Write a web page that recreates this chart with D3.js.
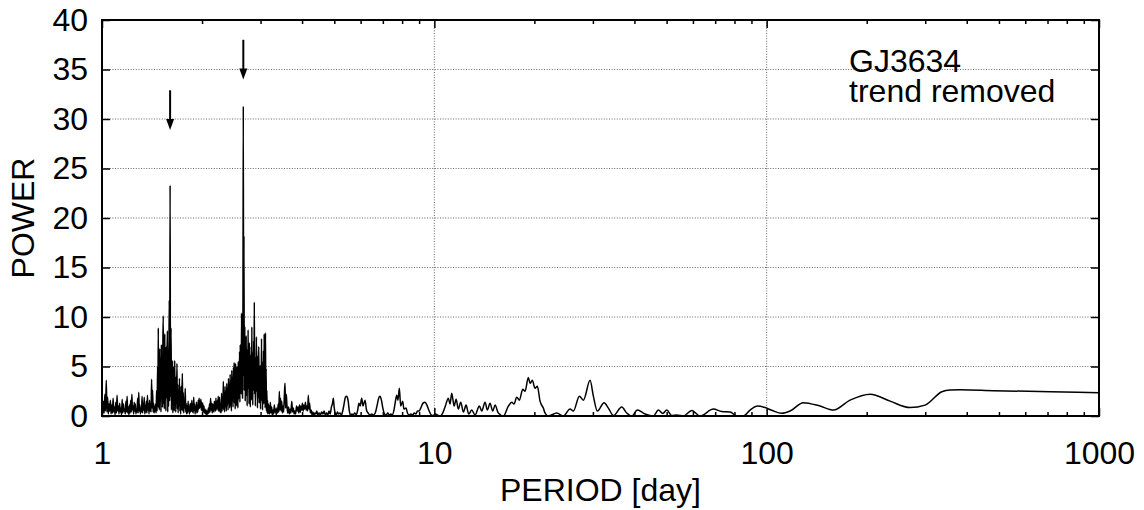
<!DOCTYPE html>
<meta charset="utf-8">
<script src="https://d3js.org/d3.v7.min.js"></script>
<style>
  body { margin: 0; background: #fff; }
  text { font-family: "Liberation Sans", Arial, sans-serif; }
</style>
<div id="chart"></div>
<script>
  // tick values
  var yTicks = [0, 5, 10, 15, 20, 25, 30, 35, 40];
  var yGrid = [5, 10, 15, 20, 25, 30, 35];
  var xTicks = [1, 10, 100, 1000];
  var xGrid = [10, 100];

  // periodogram, [period (day), power]
  var noiseShort = [[1.000,0.8],[1.005,0.2],[1.010,1.5],[1.015,0.3],[1.020,2.2],[1.025,0.5],[1.030,3.6],[1.035,0.4],[1.040,1.9],[1.045,0.2],[1.050,1.2],[1.055,0.5],[1.060,1.6],[1.065,0.2],[1.070,1.1],[1.075,0.3],[1.080,1.8],[1.085,0.4],[1.090,0.9],[1.095,0.1],[1.100,1.4],[1.105,0.3],[1.110,2.1],[1.115,0.5],[1.120,1.0],[1.125,0.2],[1.130,1.3],[1.135,0.4],[1.140,0.8],[1.145,0.1],[1.150,1.7],[1.155,0.3],[1.160,1.2],[1.165,0.5],[1.170,0.7],[1.175,0.2],[1.180,1.5],[1.185,0.4],[1.190,2.0],[1.195,0.3],[1.200,0.9],[1.205,0.1],[1.210,1.1],[1.215,0.3],[1.220,1.6],[1.225,0.4],[1.230,2.2],[1.235,0.6],[1.240,1.0],[1.245,0.2],[1.250,1.4],[1.255,0.5],[1.260,1.2],[1.265,0.2],[1.270,0.7],[1.275,0.4],[1.280,1.8],[1.285,0.3],[1.290,2.4],[1.295,0.5],[1.300,1.1],[1.305,0.2],[1.310,0.8],[1.315,0.4],[1.320,2.0],[1.325,0.3],[1.330,1.3],[1.335,0.6],[1.340,1.9],[1.345,0.2],[1.350,1.0],[1.355,0.4],[1.360,1.5],[1.365,0.3],[1.370,2.1],[1.375,0.6],[1.380,1.2],[1.385,0.2],[1.390,1.6],[1.395,0.5],[1.400,1.2],[1.405,0.4],[1.410,3.7],[1.415,0.8],[1.420,2.6],[1.425,0.4],[1.430,1.3],[1.435,0.3],[1.440,0.9],[1.445,0.5]];

  var peakOne = [[1.450,1.2],[1.455,0.3],[1.460,2.6],[1.465,0.5],[1.470,5.0],[1.473,1.0],[1.477,8.9],[1.481,0.8],[1.485,4.2],[1.489,0.6],[1.493,6.8],[1.497,1.5],[1.501,3.8],[1.505,0.4],[1.509,7.2],[1.513,2.0],[1.517,5.5],[1.521,0.9],[1.525,7.8],[1.529,10.1],[1.533,1.2],[1.537,6.2],[1.541,0.7],[1.545,8.3],[1.549,2.5],[1.553,4.9],[1.557,0.5],[1.561,7.0],[1.565,1.8],[1.569,5.2],[1.573,8.6],[1.577,0.4],[1.581,4.5],[1.585,1.0],[1.590,6.5],[1.594,11.7],[1.598,1.5],[1.603,23.3],[1.607,2.0],[1.610,6.0],[1.614,8.9],[1.618,0.6],[1.622,4.8],[1.626,1.2],[1.630,5.6],[1.634,0.3],[1.638,3.9],[1.642,1.6],[1.646,5.0],[1.650,0.5],[1.655,5.6],[1.659,1.1],[1.663,3.5],[1.667,0.4],[1.672,4.0],[1.676,1.3],[1.681,5.3],[1.685,0.7],[1.690,3.2],[1.695,0.3],[1.700,2.6],[1.705,1.0],[1.710,3.8],[1.715,0.5],[1.720,2.2],[1.725,0.2],[1.730,3.0],[1.735,0.6],[1.740,1.9],[1.745,4.3],[1.750,0.5],[1.756,2.4],[1.762,0.3],[1.768,1.6],[1.774,0.8],[1.780,2.8],[1.786,0.4],[1.792,1.3],[1.798,0.2],[1.804,1.0],[1.810,0.3],[1.816,1.5],[1.822,0.5],[1.828,0.9],[1.834,0.2],[1.840,1.2],[1.846,0.4]];

  var noiseMid = [[1.852,1.3],[1.858,0.5],[1.864,1.6],[1.870,0.4],[1.876,1.1],[1.882,0.3],[1.888,1.9],[1.894,0.6],[1.900,1.2],[1.906,0.2],[1.912,0.9],[1.918,0.5],[1.924,1.4],[1.930,0.3],[1.936,1.0],[1.942,0.4],[1.948,1.6],[1.954,0.7],[1.960,1.8],[1.966,0.8],[1.972,1.5],[1.978,0.9],[1.984,1.7],[1.990,0.6],[1.996,1.4],[2.002,0.5],[2.010,1.3],[2.018,0.4],[2.026,1.0],[2.034,0.3],[2.042,0.7],[2.050,0.2],[2.058,0.6],[2.066,0.1],[2.074,0.5],[2.082,0.2],[2.090,0.8],[2.098,0.3],[2.106,1.2],[2.114,0.4],[2.122,1.8],[2.130,0.6],[2.138,1.3],[2.146,0.3],[2.154,1.2],[2.160,0.5],[2.166,1.0],[2.172,0.4],[2.178,1.5],[2.184,0.7],[2.190,1.1],[2.196,0.5],[2.202,1.8],[2.208,0.8],[2.214,1.3],[2.220,0.6],[2.226,1.6],[2.232,1.0],[2.238,2.0],[2.244,0.5]];

  var peakTwo = [[2.250,0.8],[2.258,1.9],[2.266,0.4],[2.274,1.2],[2.282,0.3],[2.290,2.3],[2.297,0.5],[2.304,1.6],[2.311,0.8],[2.318,3.5],[2.325,0.6],[2.332,2.0],[2.339,0.4],[2.346,3.0],[2.353,1.0],[2.360,2.2],[2.367,0.5],[2.374,3.3],[2.381,1.2],[2.388,2.5],[2.395,0.6],[2.402,3.8],[2.409,1.4],[2.416,2.7],[2.423,0.8],[2.430,4.2],[2.437,1.1],[2.444,3.1],[2.451,0.5],[2.458,4.6],[2.465,1.8],[2.472,3.6],[2.479,0.9],[2.486,4.9],[2.492,2.0],[2.498,5.4],[2.504,1.3],[2.510,4.0],[2.516,0.7],[2.522,5.3],[2.528,2.2],[2.534,4.5],[2.540,1.0],[2.546,5.0],[2.552,2.6],[2.558,3.9],[2.564,0.8],[2.570,5.5],[2.576,1.7],[2.582,4.8],[2.588,2.9],[2.594,6.5],[2.600,1.4],[2.606,7.2],[2.612,3.0],[2.618,5.9],[2.624,2.2],[2.630,10.4],[2.636,3.5],[2.642,7.5],[2.648,1.8],[2.655,9.0],[2.662,31.3],[2.668,4.0],[2.674,18.2],[2.680,2.6],[2.686,7.8],[2.692,9.0],[2.698,1.5],[2.704,6.4],[2.710,3.2],[2.716,8.1],[2.722,2.0],[2.728,5.5],[2.734,1.0],[2.740,6.8],[2.746,2.7],[2.752,8.7],[2.758,3.5],[2.764,5.9],[2.770,1.2],[2.776,7.4],[2.782,2.4],[2.788,6.2],[2.794,0.9],[2.800,5.0],[2.806,2.8],[2.812,7.0],[2.818,1.6],[2.824,9.0],[2.830,3.0],[2.836,6.5],[2.842,1.1],[2.848,5.2],[2.854,2.5],[2.860,7.6],[2.866,3.8],[2.873,11.5],[2.880,2.2],[2.887,6.0],[2.894,1.0],[2.901,5.4],[2.908,2.4],[2.915,8.0],[2.922,3.3],[2.929,6.1],[2.936,0.8],[2.943,4.4],[2.950,1.9],[2.957,5.8],[2.964,7.0],[2.971,1.3],[2.978,4.6],[2.985,2.0],[2.992,5.1],[2.999,0.7],[3.006,4.2],[3.013,2.1],[3.020,7.8],[3.027,1.5],[3.034,4.0],[3.041,0.6],[3.048,5.5],[3.055,2.3],[3.062,6.6],[3.069,1.2],[3.076,8.3],[3.083,3.0],[3.090,5.0],[3.097,0.8],[3.104,8.4],[3.111,2.0],[3.118,4.8],[3.125,0.5],[3.133,2.6],[3.141,0.3],[3.149,1.6],[3.157,0.2],[3.166,1.2],[3.175,0.3]];

  var noiseLong = [[3.185,1.0],[3.195,0.2],[3.210,1.4],[3.225,0.3],[3.240,0.9],[3.255,0.1],[3.270,0.6],[3.285,0.2],[3.300,1.1],[3.315,0.4],[3.330,0.7],[3.345,0.1],[3.360,0.8],[3.375,0.3],[3.390,1.2],[3.405,0.4],[3.417,2.5],[3.430,0.6],[3.445,1.8],[3.460,0.5],[3.474,1.5],[3.490,0.3],[3.505,1.0],[3.520,0.4],[3.537,2.0],[3.553,3.3],[3.570,0.8],[3.585,2.2],[3.600,1.2],[3.620,0.3],[3.640,0.9],[3.660,0.2],[3.680,0.7],[3.700,0.3],[3.724,1.5],[3.745,0.4],[3.765,0.8],[3.785,0.2],[3.805,0.5],[3.825,0.2],[3.850,1.0],[3.870,0.5],[3.890,0.9],[3.910,0.3],[3.930,1.1],[3.950,0.4],[3.970,1.0],[3.990,0.6],[4.010,1.3],[4.030,0.5],[4.050,1.1],[4.070,0.7],[4.095,1.4],[4.115,0.6],[4.135,1.0],[4.155,0.5],[4.177,2.1],[4.195,0.7],[4.215,1.3],[4.235,0.3],[4.260,0.6],[4.285,0.1],[4.310,0.4],[4.340,0.1],[4.370,0.3],[4.400,0.2],[4.430,0.5],[4.460,0.1],[4.500,0.3],[4.540,0.1],[4.580,0.4],[4.620,0.2],[4.660,0.5],[4.700,0.1],[4.740,0.3],[4.780,0.1],[4.820,0.5],[4.860,0.2],[4.900,0.9],[4.940,1.3],[4.967,1.8],[4.995,0.9],[5.030,0.3],[5.070,0.1],[5.110,0.4],[5.150,0.2],[5.200,0.3],[5.250,0.1],[5.300,0.5],[5.350,1.2],[5.400,1.9],[5.450,2.0],[5.500,1.6],[5.550,0.5],[5.600,0.1],[5.650,0.2],[5.700,0.1],[5.760,0.3],[5.820,0.1],[5.880,0.6],[5.930,1.3],[5.980,1.0],[6.046,1.8],[6.100,1.0],[6.186,1.6],[6.250,0.6],[6.320,0.3],[6.400,0.1],[6.480,0.2],[6.560,0.1],[6.640,0.3],[6.720,1.0],[6.800,1.8],[6.865,2.0],[6.930,1.6],[7.000,0.8],[7.080,0.2],[7.160,0.1],[7.240,0.3],[7.320,0.1],[7.400,0.2],[7.480,0.1],[7.560,0.6],[7.630,1.4],[7.706,2.1],[7.770,1.6],[7.847,2.8],[7.920,1.0],[8.030,1.5],[8.100,0.7],[8.220,0.8],[8.300,0.3],[8.400,0.1],[8.500,0.2],[8.600,0.1],[8.700,0.3],[8.800,0.2],[8.900,0.5],[9.000,0.5],[9.100,0.8],[9.250,1.3],[9.376,1.4],[9.500,1.1],[9.650,0.5],[9.800,0.1],[9.900,0.05],[10.00,0.1],[10.10,0.2]];

  var hump20 = [[10.20,0.1],[10.40,0.0],[10.60,0.3],[10.77,0.9],[11.02,1.8],[11.15,1.2],[11.28,2.3],[11.47,1.0],[11.63,1.7],[11.81,0.7],[12.01,1.4],[12.23,0.4],[12.46,1.1],[12.69,0.2],[12.96,0.6],[13.26,0.1],[13.66,1.0],[13.89,0.5],[14.21,1.4],[14.44,0.6],[14.71,1.3],[14.99,0.5],[15.23,1.1],[15.58,0.3],[16.13,0.0],[16.70,1.0],[17.10,1.4],[17.37,1.2],[17.70,1.9],[18.03,1.6],[18.45,2.7],[18.75,2.5],[19.18,3.9],[19.41,3.3],[19.72,3.6],[20.09,2.8],[20.42,3.0],[20.80,1.5],[21.28,0.8],[21.54,0.3],[22.03,0.0]];

  var smoothTail = [[23.36,0.3],[24.44,0.0],[25.61,0.7],[26.20,0.5],[27.32,2.0],[28.09,1.6],[29.42,3.6],[30.10,2.0],[30.95,0.5],[32.41,1.35],[33.40,0.8],[34.57,0.05],[36.64,0.9],[37.93,0.3],[39.27,0.0],[40.82,0.6],[43.06,0.2],[45.61,0.0],[47.22,0.6],[48.68,0.25],[50.05,0.6],[51.82,0.05],[53.62,0.1],[56.14,0.0],[59.52,0.55],[63.04,0.0],[69.13,0.7],[73.27,0.45],[77.62,0.4],[81.28,0.0],[85.11,0.0],[89.13,0.6],[94.0,1.0],[99.0,0.85],[104.0,0.55],[111.0,0.27],[117.6,0.5],[128.9,1.35],[144.8,1.0],[158.8,0.6],[178.2,1.6],[204.8,2.2],[235.2,1.5],[270.1,0.85],[299.8,1.1],[336.5,2.45],[356.3,2.63],[382.0,2.65],[481.0,2.56],[712.6,2.45],[1000,2.35]];

  var series = [].concat(noiseShort, peakOne, noiseMid, peakTwo, noiseLong, hump20, smoothTail);

  // arrows marking the two peaks
  var arrowPeriod = [1.603, 2.662];
  var arrowTop = [32.9, 38.0];
  var arrowTip = [28.9, 34.0];

  // label block anchored at this period
  var labelPeriod = 177;

  var margin = { top: 20, right: 45, bottom: 94, left: 102 },
    width = 1144 - margin.left - margin.right,
    height = 510 - margin.top - margin.bottom;

  var svg = d3.select("#chart")
    .append("svg")
    .attr("width", 1144)
    .attr("height", 510)
    .append("g")
    .attr("transform", "translate(" + margin.left + "," + margin.top + ")");

  var x = d3.scaleLog().domain([1, 1000]).range([0, width]);
  var y = d3.scaleLinear().domain([0, 40]).range([height, 0]);

  // dotted grid
  svg.selectAll(".gy").data(yGrid).enter().append("line")
    .attr("x1", 0).attr("x2", width)
    .attr("y1", function(d) { return y(d); }).attr("y2", function(d) { return y(d); })
    .attr("stroke", "#666").attr("stroke-width", 1).attr("stroke-dasharray", "1,1.6");
  svg.selectAll(".gx").data(xGrid).enter().append("line")
    .attr("y1", 0).attr("y2", height)
    .attr("x1", function(d) { return x(d); }).attr("x2", function(d) { return x(d); })
    .attr("stroke", "#666").attr("stroke-width", 1).attr("stroke-dasharray", "1,1.6");

  // minor log ticks
  var minor = [];
  [1, 10, 100].forEach(function(dec) {
    for (var k = 2; k < 10; k++) minor.push(dec * k);
  });

  function styleAxis(g) {
    g.select(".domain").remove();
    g.selectAll(".tick line").attr("stroke", "#000").attr("stroke-width", 1.5);
    g.selectAll("text").attr("fill", "#000").style("font-size", "32px")
      .style("font-family", "'Liberation Sans', Arial, sans-serif");
  }

  svg.append("g").attr("transform", "translate(0," + height + ")")
    .call(d3.axisBottom(x).tickValues(xTicks).tickSize(-8).tickPadding(25).tickFormat(d3.format("d")))
    .call(styleAxis);
  svg.append("g").attr("transform", "translate(0," + height + ")")
    .call(d3.axisBottom(x).tickValues(minor).tickSize(-4).tickFormat(""))
    .call(styleAxis);
  svg.append("g")
    .call(d3.axisTop(x).tickValues(xTicks).tickSize(-8).tickFormat(""))
    .call(styleAxis);
  svg.append("g")
    .call(d3.axisTop(x).tickValues(minor).tickSize(-4).tickFormat(""))
    .call(styleAxis);
  svg.append("g")
    .call(d3.axisLeft(y).tickValues(yTicks).tickSize(-8).tickPadding(14))
    .call(styleAxis);
  svg.append("g").attr("transform", "translate(" + width + ",0)")
    .call(d3.axisRight(y).tickValues(yTicks).tickSize(-8).tickFormat(""))
    .call(styleAxis);

  // the periodogram
  var line = d3.line()
    .x(function(d) { return x(d[0]); })
    .y(function(d) { return y(d[1]); })
    .curve(d3.curveMonotoneX);
  svg.append("path")
    .datum(series)
    .attr("fill", "none")
    .attr("stroke", "#000")
    .attr("stroke-width", 1.5)
    .attr("stroke-linejoin", "round")
    .attr("d", line);

  // arrows
  var headLen = 11, headHalf = 4;
  arrowPeriod.forEach(function(p, i) {
    var ax = x(p), y0 = y(arrowTop[i]), y1 = y(arrowTip[i]);
    svg.append("line")
      .attr("x1", ax).attr("x2", ax)
      .attr("y1", y0).attr("y2", y1 - headLen + 2)
      .attr("stroke", "#000").attr("stroke-width", 2);
    svg.append("path")
      .attr("d", "M" + (ax - headHalf) + "," + (y1 - headLen) + "L" + (ax + headHalf) + "," + (y1 - headLen) + "L" + ax + "," + y1 + "Z")
      .attr("fill", "#000");
  });

  // frame
  svg.append("rect")
    .attr("width", width).attr("height", height)
    .attr("fill", "none").attr("stroke", "#000").attr("stroke-width", 2);

  // labels
  svg.append("text")
    .attr("x", width / 2).attr("y", height + 85)
    .attr("text-anchor", "middle")
    .style("font-size", "32px")
    .text("PERIOD [day]");
  svg.append("text")
    .attr("transform", "translate(" + (-margin.left + 34) + "," + (height / 2) + ") rotate(-90)")
    .attr("text-anchor", "middle")
    .style("font-size", "32px")
    .text("POWER");

  svg.append("text")
    .attr("x", x(labelPeriod)).attr("y", 52)
    .style("font-size", "32px")
    .text("GJ3634");
  svg.append("text")
    .attr("x", x(labelPeriod)).attr("y", 82)
    .style("font-size", "32px")
    .text("trend removed");
</script>
